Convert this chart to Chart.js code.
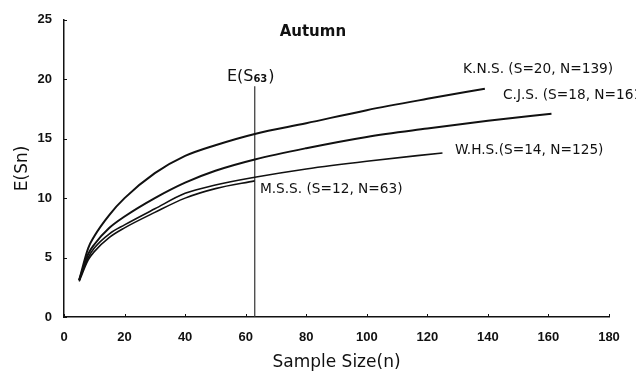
<!DOCTYPE html>
<html>
<head>
<meta charset="utf-8">
<script src="https://cdn.jsdelivr.net/npm/chart.js@4.4.0/dist/chart.umd.min.js"></script>
<style>
  html, body { margin: 0; padding: 0; background: #fff; }
  #wrap { width: 636px; height: 374px; }
</style>
</head>
<body>
<div id="wrap"><canvas id="chart"></canvas></div>
<script>
// Rarefaction curves, autumn: sample size n -> expected species E(Sn)
const knsN = [5, 8, 10, 15, 20, 30, 40, 50, 63, 80, 100, 120, 139];
const knsE = [3.1, 5.8, 6.8, 8.6, 10.0, 12.1, 13.55, 14.45, 15.4, 16.3, 17.4, 18.35, 19.2];

const cjsN = [5, 8, 10, 15, 20, 30, 40, 50, 63, 80, 100, 120, 140, 161];
const cjsE = [3.1, 5.3, 6.1, 7.5, 8.45, 10.0, 11.3, 12.3, 13.25, 14.2, 15.15, 15.85, 16.5, 17.1];

const whsN = [5, 8, 10, 15, 20, 30, 40, 50, 63, 80, 100, 125];
const whsE = [3.1, 5.0, 5.8, 7.0, 7.75, 9.1, 10.4, 11.1, 11.75, 12.45, 13.1, 13.8];

const mssN = [5, 8, 10, 15, 20, 30, 40, 50, 63];
const mssE = [3.0, 4.8, 5.5, 6.7, 7.5, 8.8, 10.0, 10.8, 11.45];

const siteLabels = ['K.N.S. (S=20, N=139)', 'C.J.S. (S=18, N=161)', 'W.H.S.(S=14, N=125)', 'M.S.S. (S=12, N=63)'];

// E(S63) reference line
const refN = 63;
const refTop = 19.4;

const xTicks = [0, 20, 40, 60, 80, 100, 120, 140, 160, 180];
const yTicks = [0, 5, 10, 15, 20, 25];

// where the texts sit, in data units
const labelAt = [[131.8, 20.85], [145, 18.6], [129.1, 14.0], [64.7, 10.7]];
const refLabelAt = [53.8, 20.2];
const titleAt = [82.2, 24.0];

const pts = (ns, es) => ns.map((n, i) => ({ x: n, y: es[i] }));

function curve(data, width) {
  return {
    data: data,
    borderColor: '#111',
    borderWidth: width,
    pointRadius: 0,
    cubicInterpolationMode: 'monotone',
    fill: false
  };
}

const annotate = {
  id: 'annotate',
  afterDraw(chart) {
    const { ctx, scales: { x, y } } = chart;
    ctx.save();

    // inward tick marks
    ctx.strokeStyle = '#111';
    ctx.lineWidth = 1;
    xTicks.forEach(v => {
      const px = Math.round(x.getPixelForValue(v)) + 0.5;
      ctx.beginPath();
      ctx.moveTo(px, y.bottom);
      ctx.lineTo(px, y.bottom - 3);
      ctx.stroke();
    });
    yTicks.forEach(v => {
      const py = Math.round(y.getPixelForValue(v)) + 0.5;
      ctx.beginPath();
      ctx.moveTo(x.left, py);
      ctx.lineTo(x.left + 3, py);
      ctx.stroke();
    });

    ctx.fillStyle = '#111';
    ctx.textBaseline = 'middle';

    // site labels
    ctx.font = '13.7px "DejaVu Sans"';
    ctx.textAlign = 'left';
    siteLabels.forEach((s, i) => {
      ctx.fillText(s, x.getPixelForValue(labelAt[i][0]), y.getPixelForValue(labelAt[i][1]));
    });

    // E(S63)
    let lx = x.getPixelForValue(refLabelAt[0]);
    const ly = y.getPixelForValue(refLabelAt[1]);
    ctx.font = '16px "DejaVu Sans"';
    ctx.fillText('E(S', lx, ly);
    lx += ctx.measureText('E(S').width;
    ctx.font = 'bold 10px "DejaVu Sans"';
    ctx.fillText('63', lx, ly + 3);
    lx += ctx.measureText('63').width + 1;
    ctx.font = '16px "DejaVu Sans"';
    ctx.fillText(')', lx, ly);

    // title
    ctx.font = 'bold 15px "DejaVu Sans"';
    ctx.textAlign = 'center';
    ctx.fillText('Autumn', x.getPixelForValue(titleAt[0]), y.getPixelForValue(titleAt[1]));

    ctx.restore();
  }
};

new Chart(document.getElementById('chart'), {
  type: 'line',
  data: {
    datasets: [
      curve(pts(knsN, knsE), 2),
      curve(pts(cjsN, cjsE), 2),
      curve(pts(whsN, whsE), 1.6),
      curve(pts(mssN, mssE), 1.6),
      {
        data: [{ x: refN, y: 0 }, { x: refN, y: refTop }],
        borderColor: '#333',
        borderWidth: 1.2,
        pointRadius: 0
      }
    ]
  },
  options: {
    responsive: true,
    maintainAspectRatio: false,
    animation: false,
    layout: { padding: { top: 15, right: 27, left: 0, bottom: 0 } },
    plugins: { legend: { display: false }, tooltip: { enabled: false } },
    scales: {
      x: {
        type: 'linear',
        min: 0,
        max: 180,
        afterFit: s => { s.height = 57; },
        afterBuildTicks: s => { s.ticks = xTicks.map(v => ({ value: v })); },
        grid: { drawOnChartArea: false, drawTicks: false },
        border: { color: '#111', width: 1.5 },
        ticks: { padding: 13, color: '#111', font: { family: 'Liberation Sans', size: 13, weight: 'bold' } },
        title: { display: true, text: 'Sample Size(n)', color: '#111', padding: { bottom: 1 }, font: { family: 'DejaVu Sans', size: 17 } }
      },
      y: {
        min: 0,
        max: 25,
        afterFit: s => { s.width = 64; },
        afterBuildTicks: s => { s.ticks = yTicks.map(v => ({ value: v })); },
        grid: { drawOnChartArea: false, drawTicks: false },
        border: { color: '#111', width: 1.5 },
        ticks: { padding: 12, color: '#111', font: { family: 'Liberation Sans', size: 13, weight: 'bold' } },
        title: { display: true, text: 'E(Sn)', color: '#111', padding: { top: 12 }, font: { family: 'DejaVu Sans', size: 17 } }
      }
    }
  },
  plugins: [annotate]
});
</script>
</body>
</html>
